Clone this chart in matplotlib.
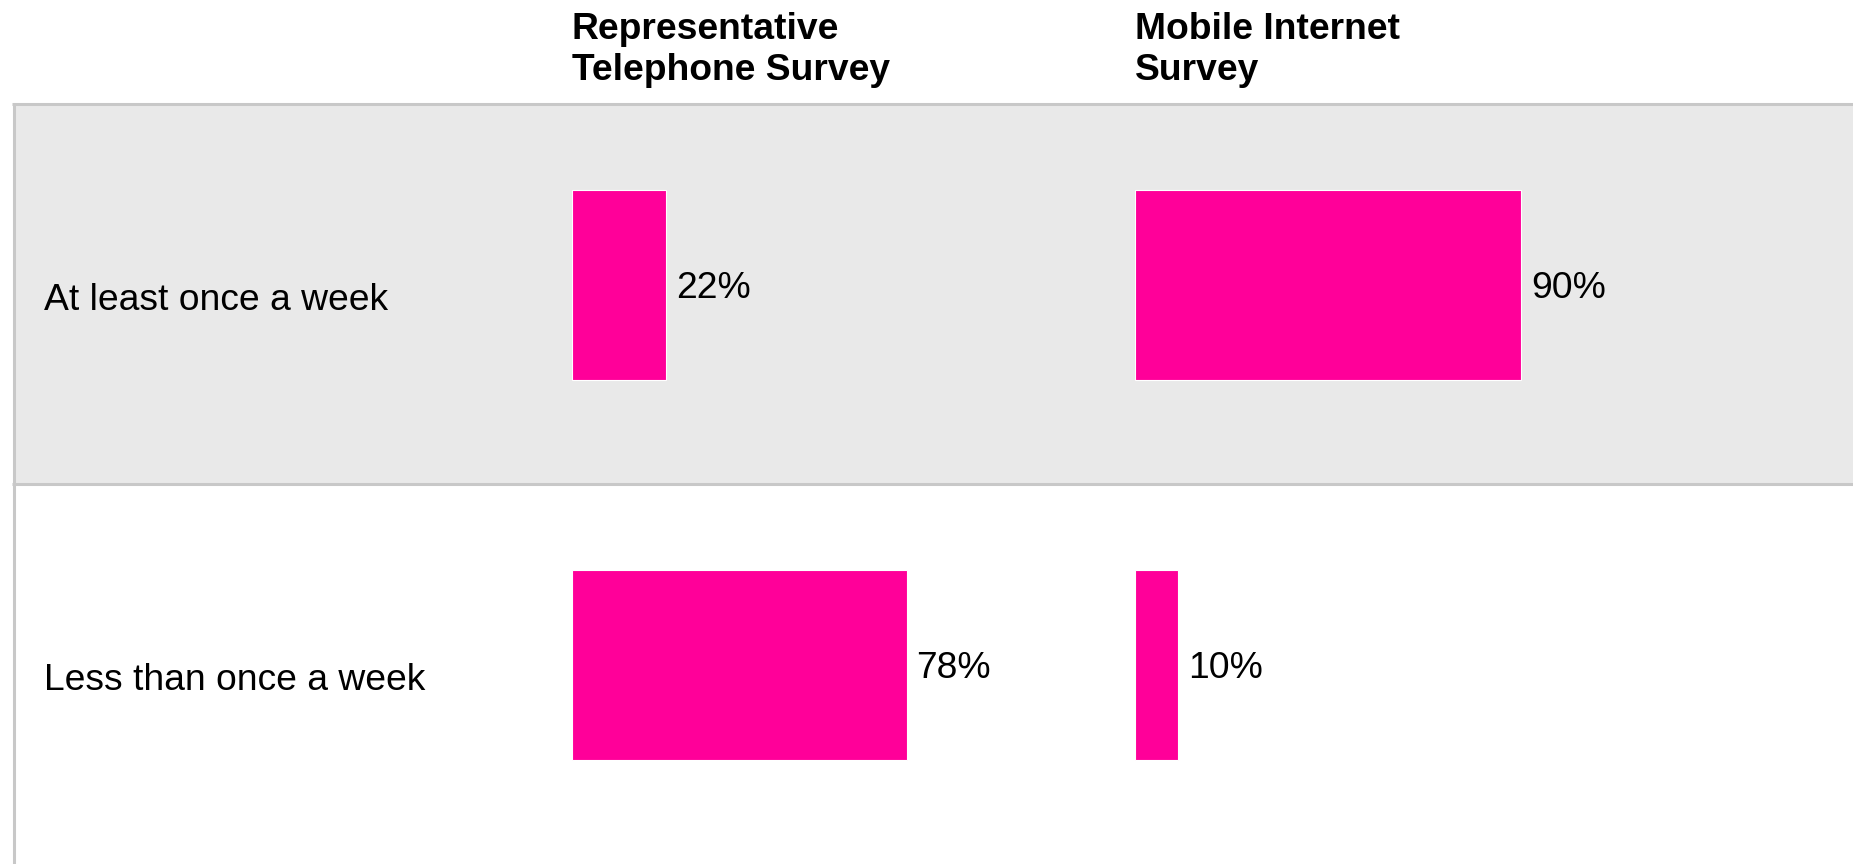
import matplotlib
matplotlib.use("Agg")
import matplotlib.pyplot as plt
from matplotlib.patches import Rectangle

plt.rcParams['font.family'] = ['Liberation Sans', 'DejaVu Sans']

# data
categories = ["At least once a week", "Less than once a week"]
surveys = ["Representative\nTelephone Survey", "Mobile Internet\nSurvey"]
telephone = [22, 78]
mobile = [90, 10]

W, H = 1853, 864
pink = "#FF0099"
band = "#E9E9E9"
rule = "#C8C8C8"
fs = 26.8

fig = plt.figure(figsize=(W / 100, H / 100), dpi=100)

# table background (pixel coords, y down)
bg = fig.add_axes([0, 0, 1, 1])
bg.set_xlim(0, W)
bg.set_ylim(H, 0)
bg.axis("off")

row_top = 104
row_h = 380
bg.add_patch(Rectangle((14, row_top), W - 14, row_h, color=band, lw=0))
bg.plot([12, W], [row_top, row_top], color=rule, lw=2.2, solid_capstyle="butt")
bg.plot([12, W], [row_top + row_h, row_top + row_h], color=rule, lw=2.2, solid_capstyle="butt")
bg.plot([13.5, 13.5], [row_top, H], color=rule, lw=2.2, solid_capstyle="butt")

for i, cat in enumerate(categories):
    yc = row_top + row_h * (i + 0.5)
    bg.text(44, yc + 16, cat, fontsize=fs, va="baseline", ha="left", color="black")

col_left = [572, 1135]
for x0, name in zip(col_left, surveys):
    bg.text(x0, 12, name, fontsize=fs, fontweight="bold", va="top", ha="left",
            color="black", linespacing=1.24)

# bar axes, one per survey column
scale_w = 429  # px for 100%
ax_bottom = (H - 854.8) / H
ax_height = 760 / H
for x0, vals in zip(col_left, [telephone, mobile]):
    ax = fig.add_axes([x0 / W, ax_bottom, scale_w / W, ax_height])
    ax.patch.set_alpha(0)
    ax.barh(range(len(categories)), vals, height=0.5, color=pink,
            edgecolor="white", linewidth=0.8)
    for i, v in enumerate(vals):
        ax.annotate(f"{v}%", xy=(v, i), xytext=(10, -13),
                    textcoords="offset pixels", fontsize=fs,
                    va="baseline", ha="left", annotation_clip=False)
    ax.set_xlim(0, 100)
    ax.set_ylim(len(categories) - 0.5, -0.5)
    ax.axis("off")

fig.savefig("out.png", dpi=100)
